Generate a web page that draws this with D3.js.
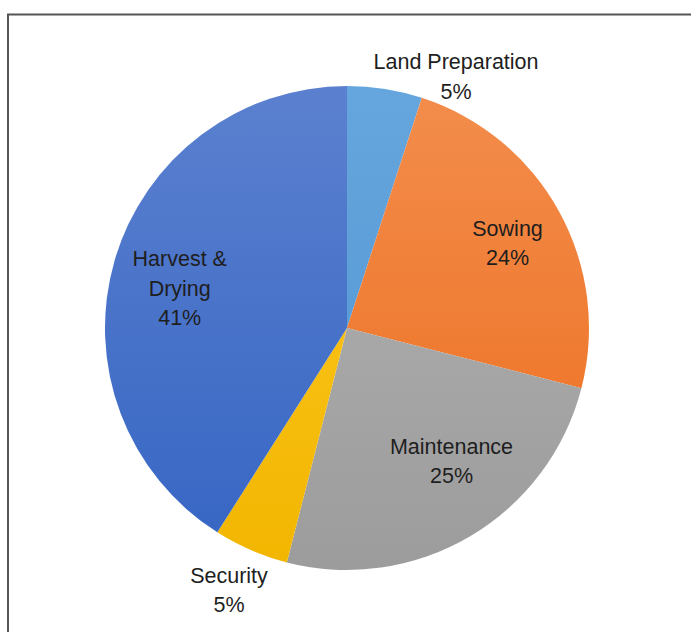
<!DOCTYPE html>
<html>
<head>
<meta charset="utf-8">
<script src="https://cdn.jsdelivr.net/npm/d3@7"></script>
<style>
  body { margin: 0; background: #fff; }
  text { font-family: "Liberation Sans", Arial, sans-serif; }
</style>
</head>
<body>
<div id="chart"></div>
<script>
// data
var categories = ["Land Preparation", "Sowing", "Maintenance", "Security", "Harvest & Drying"];
var shares = [5, 24, 25, 5, 41];
var labelLines = [["Land Preparation"], ["Sowing"], ["Maintenance"], ["Security"], ["Harvest &", "Drying"]];
var topColors = ["#66a6de", "#f38d4c", "#b3b3b3", "#ffc926", "#5b80cf"];
var bottomColors = ["#4f93d0", "#ec6d1d", "#9c9c9c", "#f2b600", "#3565c3"];

var width = 691, height = 632;
var cx = 347, cy = 328, radius = 242;

var svg = d3.select("#chart").append("svg")
  .attr("width", width)
  .attr("height", height);

// frame (runs off the right and bottom edge)
svg.append("rect")
  .attr("x", 8).attr("y", 14.5)
  .attr("width", 720).attr("height", 660)
  .attr("fill", "none")
  .attr("stroke", "#555")
  .attr("stroke-width", 2);

// vertical gradients, lighter at the top (coords are relative to the pie centre)
var defs = svg.append("defs");
categories.forEach(function (c, i) {
  var g = defs.append("linearGradient")
    .attr("id", "grad" + i)
    .attr("gradientUnits", "userSpaceOnUse")
    .attr("x1", 0).attr("y1", -radius)
    .attr("x2", 0).attr("y2", radius);
  g.append("stop").attr("offset", "0%").attr("stop-color", topColors[i]);
  g.append("stop").attr("offset", "100%").attr("stop-color", bottomColors[i]);
});

var pie = d3.pie().sort(null).value(function (d) { return d; });
var arcs = pie(shares);

var arc = d3.arc().innerRadius(0).outerRadius(radius);

var g = svg.append("g").attr("transform", "translate(" + cx + "," + cy + ")");

g.selectAll("path")
  .data(arcs)
  .enter().append("path")
  .attr("d", arc)
  .attr("fill", function (d, i) { return "url(#grad" + i + ")"; });

// label placement: radius factor and angle shift (degrees) per slice
var labelRadius = [1.13, 0.75, 0.70, 1.19, 0.71];
var labelShift = [14.5, 1, -7.5, 0.8, -3];

arcs.forEach(function (d, i) {
  var mid = (d.startAngle + d.endAngle) / 2 + labelShift[i] * Math.PI / 180;
  var r = radius * labelRadius[i];
  var x = Math.sin(mid) * r;
  var y = -Math.cos(mid) * r;
  var lines = labelLines[i].concat([shares[i] + "%"]);
  var lh = 29.5;
  var y0 = y - (lines.length - 1) * lh / 2 + 7;
  var t = g.append("text")
    .attr("text-anchor", "middle")
    .attr("font-size", "21.5px")
    .attr("fill", "#1e1e1e");
  lines.forEach(function (s, k) {
    t.append("tspan")
      .attr("x", x)
      .attr("y", y0 + k * lh)
      .text(s);
  });
});
</script>
</body>
</html>
